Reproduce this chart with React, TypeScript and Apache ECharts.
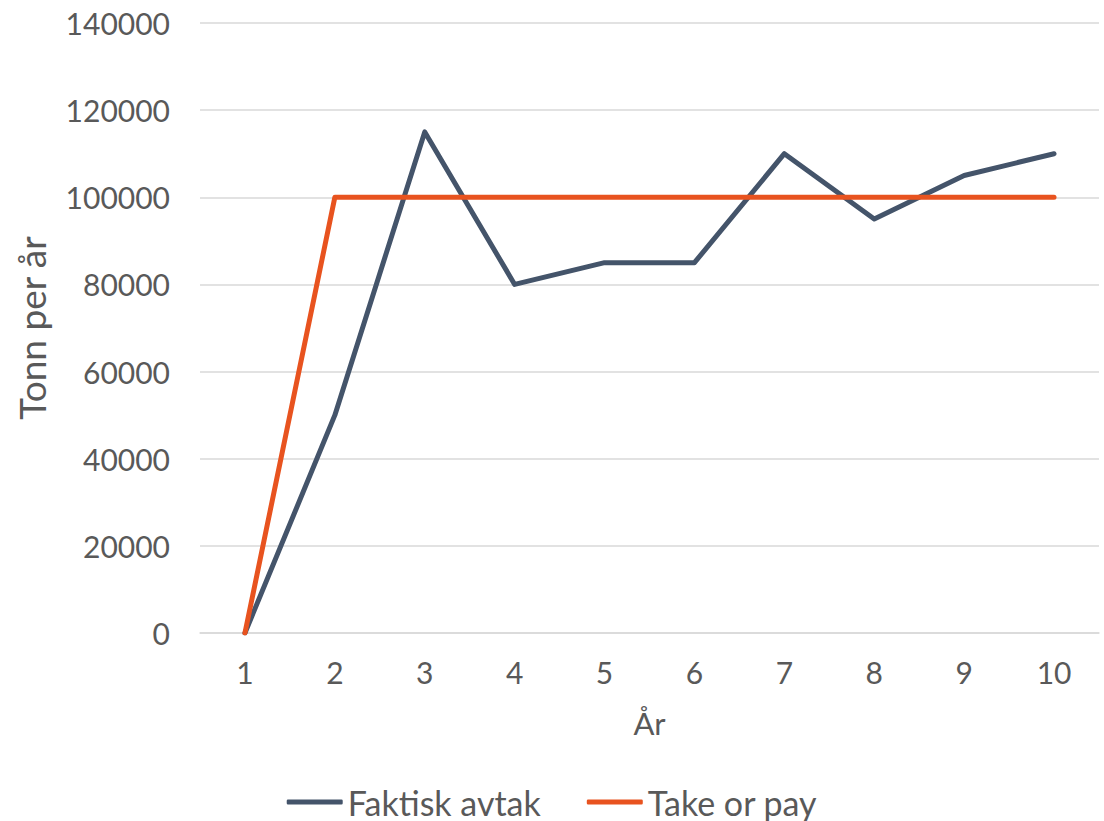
import React, { useEffect, useRef } from "react";
import * as echarts from "echarts";

const categories = ["1", "2", "3", "4", "5", "6", "7", "8", "9", "10"];
const faktisk = [0, 50000, 115000, 80000, 85000, 85000, 110000, 95000, 105000, 110000];
const takeOrPay = [0, 100000, 100000, 100000, 100000, 100000, 100000, 100000, 100000, 100000];

const FONT = "Lato, 'Noto Sans', sans-serif";

export default function App() {
  const ref = useRef<HTMLDivElement>(null);
  useEffect(() => {
    if (!ref.current) return;
    const chart = echarts.init(ref.current, undefined, { renderer: "svg" });
    chart.setOption({
      animation: false,
      textStyle: { fontFamily: FONT },
      grid: { left: 200, right: 5, top: 23, bottom: 188, containLabel: false },
      legend: {
        top: 785,
        padding: 0,
        left: "center",
        icon: "roundRect",
        itemWidth: 56,
        itemHeight: 5,
        itemGap: 46,
        textStyle: { fontSize: 34, color: "#595959", fontFamily: FONT },
        data: ["Faktisk avtak", "Take or pay"],
      },
      xAxis: {
        type: "category",
        data: categories,
        boundaryGap: true,
        name: "År",
        nameLocation: "middle",
        nameGap: 74,
        nameTextStyle: { fontSize: 31, color: "#595959", fontFamily: FONT },
        axisLine: { show: true, lineStyle: { color: "#D9D9D9", width: 1.5 } },
        axisTick: { show: false },
        axisLabel: { fontSize: 30, color: "#595959", margin: 24, fontFamily: FONT },
      },
      yAxis: {
        type: "value",
        min: 0,
        max: 140000,
        interval: 20000,
        name: "Tonn per år",
        nameLocation: "middle",
        nameGap: 150,
        nameTextStyle: { fontSize: 37, color: "#595959", fontFamily: FONT },
        axisLine: { show: false },
        axisTick: { show: false },
        axisLabel: {
          fontSize: 30,
          color: "#595959",
          margin: 30,
          fontFamily: FONT,
          formatter: (v: number) => String(v),
        },
        splitLine: { lineStyle: { color: "#D9D9D9", width: 1.5 } },
      },
      series: [
        {
          name: "Faktisk avtak",
          type: "line",
          data: faktisk,
          symbol: "none",
          lineStyle: { color: "#44546A", width: 5, cap: "round", join: "round" },
          itemStyle: { color: "#44546A" },
        },
        {
          name: "Take or pay",
          type: "line",
          data: takeOrPay,
          symbol: "none",
          lineStyle: { color: "#E8531F", width: 5, cap: "round", join: "round" },
          itemStyle: { color: "#E8531F" },
        },
      ],
    });
    return () => chart.dispose();
  }, []);
  return <div ref={ref} style={{ width: 1104, height: 821, position: "absolute", left: 0, top: 0 }} />;
}
